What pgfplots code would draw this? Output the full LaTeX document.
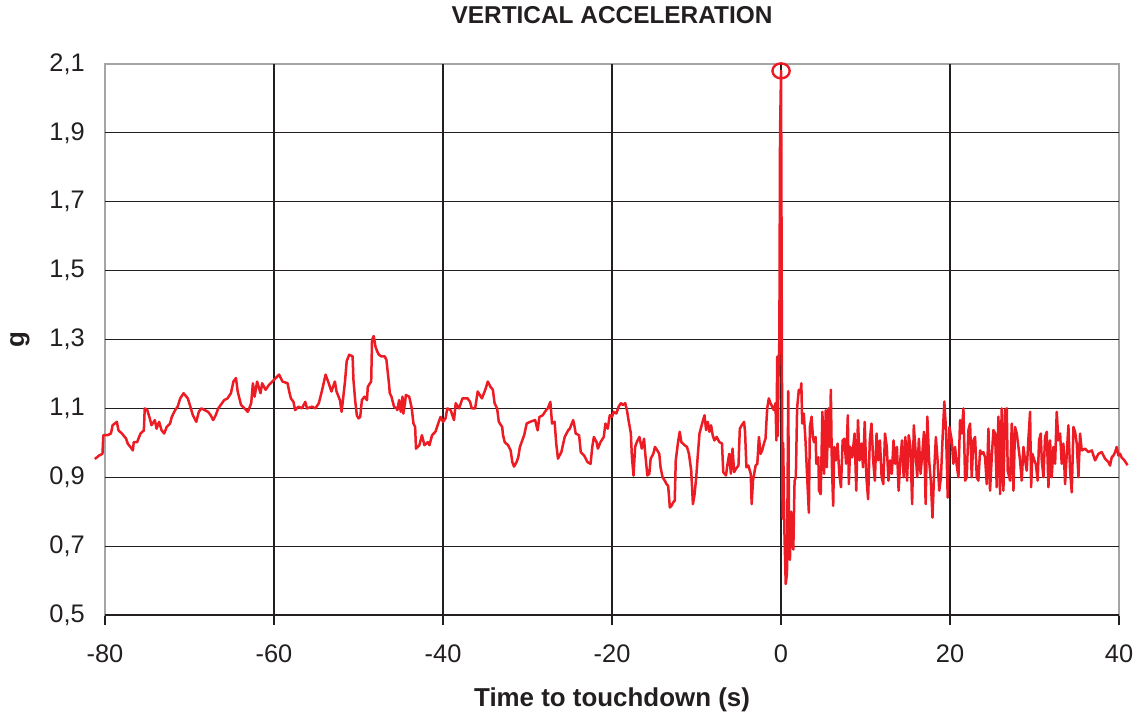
\documentclass[border=0pt]{standalone}
\usepackage{fontspec}
\setmainfont{Liberation Sans}
\usepackage{pgfplots}
\pgfplotsset{compat=1.18}
\definecolor{tracered}{RGB}{237,28,36}
\definecolor{framegray}{RGB}{165,165,165}
\definecolor{ink}{RGB}{35,31,32}
\begin{document}
\begin{tikzpicture}
\useasboundingbox (-105bp,-102bp) rectangle (1035bp,615bp);
\begin{axis}[
  at={(0,0)}, anchor=south west,
  scale only axis, width=1014bp, height=551bp,
  xmin=-80, xmax=40, ymin=0.5, ymax=2.1,
  clip=false,
  axis line style={framegray, line width=1.3bp},
  tick pos=left,
  xtick={-80,40},
  xticklabels={-80,40},
  extra x ticks={-60,-40,-20,0,20},
  extra x tick labels={-60,-40,-20,0,20},
  extra x tick style={grid=major},
  ytick={0.5,2.1},
  yticklabels={{0,5},{2,1}},
  extra y ticks={0.7,0.9,1.1,1.3,1.5,1.7,1.9},
  extra y tick labels={{0,7},{0,9},{1,1},{1,3},{1,5},{1,7},{1,9}},
  extra y tick style={grid=major},
  major grid style={ink, line width=1.2bp},
  tick align=outside, major tick length=10bp,
  xtick style={ink, line width=1.2bp},
  ytick style={draw=none},
  ticklabel style={font=\fontsize{25.5}{30}\selectfont, text=ink},
  xticklabel style={anchor=base, inner sep=0pt, yshift=-37bp},
  yticklabel style={anchor=east, inner sep=0pt, xshift=-10bp},
  title={VERTICAL ACCELERATION},
  title style={at={(axis description cs:0.5,1.0635)}, anchor=base, font=\fontsize{24.5}{29}\selectfont\bfseries, text=ink},
  xlabel={Time to touchdown (s)},
  xlabel style={at={(axis description cs:0.5,-0.1652)}, anchor=base, font=\fontsize{26}{31}\selectfont\bfseries, text=ink},
  ylabel={g},
  ylabel style={at={(axis description cs:-0.0838,0.5)}, anchor=center, rotate=0, font=\fontsize{26}{31}\selectfont\bfseries, text=ink},
]
\draw[ink, line width=2.4bp] (axis cs:-80,0.5) -- (axis cs:40,0.5);
\addplot[tracered, line width=2.5bp, line join=round] coordinates {
(-81.2,0.953) (-80.7,0.963) (-80.3,0.968) (-80.2,1.022) (-79.7,1.022) (-79.3,1.027) (-79.1,1.051) (-78.6,1.061) (-78.4,1.036) (-78.0,1.027) (-77.5,1.012) (-77.3,0.997) (-77.0,0.988) (-76.7,0.978) (-76.6,1.002) (-76.2,1.002) (-75.8,1.027) (-75.4,1.036) (-75.3,1.100) (-75.0,1.095) (-74.7,1.071) (-74.5,1.051) (-74.1,1.066) (-73.9,1.041) (-73.6,1.061) (-73.3,1.036) (-73.0,1.027) (-72.7,1.046) (-72.3,1.056) (-72.1,1.075) (-71.7,1.095) (-71.4,1.105) (-71.1,1.129) (-70.7,1.144) (-70.2,1.129) (-69.9,1.105) (-69.6,1.080) (-69.2,1.061) (-68.9,1.090) (-68.6,1.100) (-68.2,1.095) (-67.8,1.090) (-67.5,1.080) (-67.2,1.066) (-66.9,1.080) (-66.6,1.100) (-66.3,1.110) (-65.9,1.124) (-65.5,1.129) (-65.1,1.144) (-64.8,1.178) (-64.5,1.188) (-64.3,1.149) (-63.9,1.110) (-63.5,1.100) (-63.1,1.090) (-62.7,1.115) (-62.5,1.173) (-62.3,1.134) (-62.0,1.178) (-61.6,1.144) (-61.4,1.173) (-61.0,1.154) (-60.6,1.168) (-60.2,1.178) (-59.8,1.188) (-59.4,1.198) (-59.0,1.178) (-58.4,1.173) (-58.2,1.149) (-58.0,1.129) (-57.7,1.119) (-57.5,1.095) (-57.1,1.105) (-56.7,1.100) (-56.3,1.119) (-56.1,1.100) (-55.5,1.105) (-55.1,1.100) (-54.7,1.115) (-54.3,1.154) (-53.9,1.198) (-53.6,1.178) (-53.2,1.149) (-52.8,1.178) (-52.6,1.149) (-52.2,1.124) (-52.0,1.090)
(-51.6,1.178) (-51.4,1.237) (-51.1,1.256) (-50.7,1.251) (-50.6,1.183) (-50.4,1.124) (-50.2,1.080) (-50.0,1.071) (-49.8,1.075) (-49.6,1.124) (-49.3,1.134) (-49.0,1.124) (-48.9,1.163) (-48.5,1.178) (-48.4,1.300) (-48.2,1.310) (-48.0,1.280) (-47.8,1.266) (-47.6,1.256) (-47.3,1.251) (-46.9,1.251) (-46.7,1.241) (-46.4,1.173) (-46.3,1.144) (-46.1,1.134) (-45.8,1.105) (-45.5,1.100) (-45.4,1.095) (-45.2,1.124) (-45.0,1.090) (-44.8,1.134) (-44.7,1.085) (-44.5,1.115) (-44.4,1.139) (-44.0,1.134) (-43.7,1.100) (-43.5,1.056) (-43.3,1.046) (-43.2,0.983) (-42.8,0.993) (-42.5,1.022) (-42.2,0.993) (-41.8,1.002) (-41.6,0.993) (-41.3,1.022) (-40.9,1.032) (-40.5,1.061) (-40.3,1.075) (-40.0,1.061) (-39.7,1.071) (-39.5,1.100) (-39.1,1.095) (-38.7,1.066) (-38.5,1.115) (-38.1,1.100) (-37.7,1.129) (-37.1,1.129) (-36.8,1.119) (-36.6,1.100) (-36.2,1.100) (-35.9,1.149) (-35.4,1.129) (-35.0,1.154) (-34.7,1.178) (-34.4,1.163) (-34.1,1.154) (-33.9,1.115) (-33.6,1.100) (-33.4,1.061) (-33.0,1.046) (-32.9,1.022) (-32.7,1.002) (-32.3,0.993) (-32.0,0.978) (-31.8,0.944) (-31.6,0.931) (-31.3,0.944) (-31.1,0.958) (-30.9,0.988) (-30.7,1.002) (-30.4,1.022) (-30.1,1.056) (-29.7,1.061) (-29.1,1.066) (-28.8,1.036) (-28.6,1.075) (-28.2,1.080) (-27.8,1.095) (-27.6,1.100) (-27.3,1.119) (-27.1,1.056) (-26.8,1.061) (-26.6,0.997) (-26.4,0.954) (-26.0,0.973) (-25.6,1.017) (-25.2,1.036) (-25.0,1.041) (-24.6,1.066) (-24.5,1.056) (-24.3,1.027) (-23.9,1.022) (-23.7,0.973) (-23.3,0.963) (-22.9,0.944) (-22.54,0.939)
(-22.34,0.988) (-22.15,1.017) (-21.83,1.002) (-21.68,0.983) (-21.37,1.002) (-20.98,1.017) (-20.78,1.056) (-20.51,1.041) (-20.27,1.080) (-20.00,1.076) (-19.80,1.090) (-19.49,1.085) (-19.22,1.105) (-18.95,1.115) (-18.71,1.110) (-18.44,1.115) (-18.24,1.095) (-18.05,1.066) (-17.77,1.027) (-17.66,0.963) (-17.46,0.905) (-17.27,0.988) (-17.07,1.002) (-16.76,1.017) (-16.48,0.983) (-16.21,1.012) (-16.09,0.973) (-15.82,0.905) (-15.59,0.910) (-15.43,0.954) (-15.12,0.968) (-14.92,0.988) (-14.65,0.978) (-14.41,0.968) (-14.26,0.929) (-14.02,0.900) (-13.75,0.890) (-13.55,0.880) (-13.36,0.875) (-13.16,0.812) (-12.97,0.817) (-12.77,0.827) (-12.58,0.832) (-12.46,0.949) (-12.19,1.002) (-11.99,1.032) (-11.80,1.002) (-11.41,0.993) (-11.13,0.988) (-10.90,0.968) (-10.63,0.919) (-10.43,0.822) (-10.23,0.851) (-10.04,0.900) (-9.84,0.968) (-9.65,1.027) (-9.34,1.056) (-9.06,1.080) (-8.87,1.037) (-8.67,1.061) (-8.48,1.032) (-8.28,1.051) (-8.09,1.022) (-7.89,1.007) (-7.62,1.017) (-7.30,1.002) (-6.99,0.998) (-6.84,0.915) (-6.52,0.905) (-6.33,0.939) (-6.13,0.968) (-5.94,0.910) (-5.74,0.983) (-5.55,0.915) (-5.35,0.924) (-5.04,0.934) (-4.88,1.041) (-4.65,1.051) (-4.38,1.061) (-4.26,1.032) (-4.10,0.929) (-3.87,0.934) (-3.59,0.910) (-3.48,0.822) (-3.32,0.890) (-3.01,0.934) (-2.81,0.939) (-2.62,1.017) (-2.42,0.968) (-2.23,0.978) (-2.03,0.998) (-1.84,1.012) (-1.64,1.100) (-1.45,1.129) (-1.25,1.115) (-1.05,1.105) (-0.86,1.095) (-0.66,1.115)
(-0.55,1.007) (-0.45,1.25) (-0.38,1.02) (-0.3,1.2) (-0.2,1.3) (-0.12,1.9) (0,2.08) (0.12,1.1) (0.18,0.78) (0.25,1.0) (0.4,0.74) (0.55,0.59) (0.7,0.62) (0.85,1.15) (0.95,0.72) (1.05,0.66) (1.2,0.80) (1.3,0.72) (1.45,0.69) (1.6,0.89) (1.75,0.90) (1.9,1.1) (2.1,1.154) (2.3,1.144) (2.4,1.173) (2.5,1.056)
(2.69,1.085) (2.89,1.007) (3.09,0.900) (3.29,0.797) (3.41,1.046) (3.61,1.076) (3.77,1.017) (3.89,1.002) (4.09,1.017) (4.17,0.939) (4.41,0.958) (4.49,0.861) (4.69,0.851) (4.81,0.988) (4.89,1.090) (5.09,0.910) (5.29,1.095) (5.41,0.929) (5.61,1.100) (5.77,0.988) (5.89,1.154) (6.01,0.939) (6.17,0.817) (6.29,0.988) (6.49,0.949) (6.69,0.998) (6.89,0.910) (7.09,0.871) (7.29,1.007) (7.49,1.012) (7.70,0.939) (7.90,1.080) (8.02,0.880) (8.18,0.988) (8.42,0.958) (8.70,1.027) (8.90,0.861) (9.10,1.066) (9.30,0.949) (9.50,0.998) (9.70,0.929) (9.90,1.061) (10.10,0.900) (10.30,0.836) (10.50,1.007) (10.70,1.056) (10.90,0.949) (11.10,0.890) (11.30,1.027) (11.50,0.949) (11.70,1.007) (11.90,0.900) (12.10,0.880) (12.30,1.027) (12.51,0.988) (12.71,0.890) (12.91,0.949) (13.11,0.910) (13.31,1.007) (13.51,0.939) (13.71,0.988) (13.91,0.861) (14.11,0.949) (14.31,1.007) (14.51,0.900) (14.71,1.017) (14.91,0.890) (15.11,1.022) (15.31,0.988) (15.51,0.822) (15.71,1.051) (15.91,0.978) (16.11,0.900) (16.31,1.012) (16.51,0.910) (16.71,0.968) (16.91,1.032) (17.11,0.822) (17.31,1.076) (17.52,0.949) (17.72,0.890) (17.92,0.783) (18.12,0.919) (18.32,1.017) (18.52,0.949) (18.72,0.861) (18.92,0.900) (19.12,1.017) (19.32,1.120) (19.52,1.037) (19.72,0.841) (19.92,1.046)
(20.20,1.007) (20.39,0.939) (20.59,0.988) (20.79,0.934) (20.99,0.900) (21.18,1.066) (21.38,1.027) (21.58,1.100) (21.78,0.890) (21.97,0.900) (22.17,1.037) (22.37,1.056) (22.56,0.900) (22.76,1.007) (22.96,1.017) (23.16,0.900) (23.35,0.890) (23.55,0.978) (23.75,0.968) (23.94,0.973) (24.14,0.958) (24.34,0.880) (24.54,1.041) (24.73,0.861) (24.93,0.958) (25.13,1.037) (25.33,1.027) (25.52,0.871) (25.72,1.076) (25.92,0.851) (26.11,1.100) (26.31,0.861) (26.51,1.095) (26.71,1.100) (26.82,0.919) (27.10,0.890) (27.30,1.056) (27.50,0.861) (27.69,1.046) (27.89,1.027) (28.09,0.988) (28.28,0.949) (28.48,0.890) (28.68,0.988) (28.88,0.949) (29.07,0.919) (29.27,1.012) (29.47,1.090) (29.59,0.871) (29.74,0.968) (29.98,0.949) (30.14,0.939) (30.37,0.890) (30.53,1.007) (30.73,1.027) (30.85,0.949) (31.05,0.900) (31.24,1.017) (31.44,1.032) (31.64,0.871) (31.83,1.007) (32.03,0.900) (32.23,0.988) (32.43,0.939) (32.62,1.090) (32.82,1.007) (33.02,1.027) (33.21,0.939) (33.41,0.998) (33.61,0.880) (33.81,0.968) (34.00,1.051) (34.20,0.919) (34.40,0.856) (34.60,1.046) (34.79,1.032) (34.99,0.998) (35.19,0.900) (35.38,1.027) (35.58,0.978) (35.98,0.983) (36.37,0.973) (36.77,0.978) (37.16,0.949) (37.55,0.968) (37.95,0.973) (38.34,0.954) (38.74,0.944) (38.93,0.934) (39.13,0.958) (39.33,0.963) (39.53,0.973) (39.72,0.988) (39.92,0.963) (40.12,0.968) (40.31,0.957) (40.6,0.95) (41.0,0.935)
};
\addplot[tracered, line width=2.4bp, only marks, mark=o, mark size=7.5bp, mark options={xscale=1.15}] coordinates {(0,2.08)};
\end{axis}
\end{tikzpicture}
\end{document}
